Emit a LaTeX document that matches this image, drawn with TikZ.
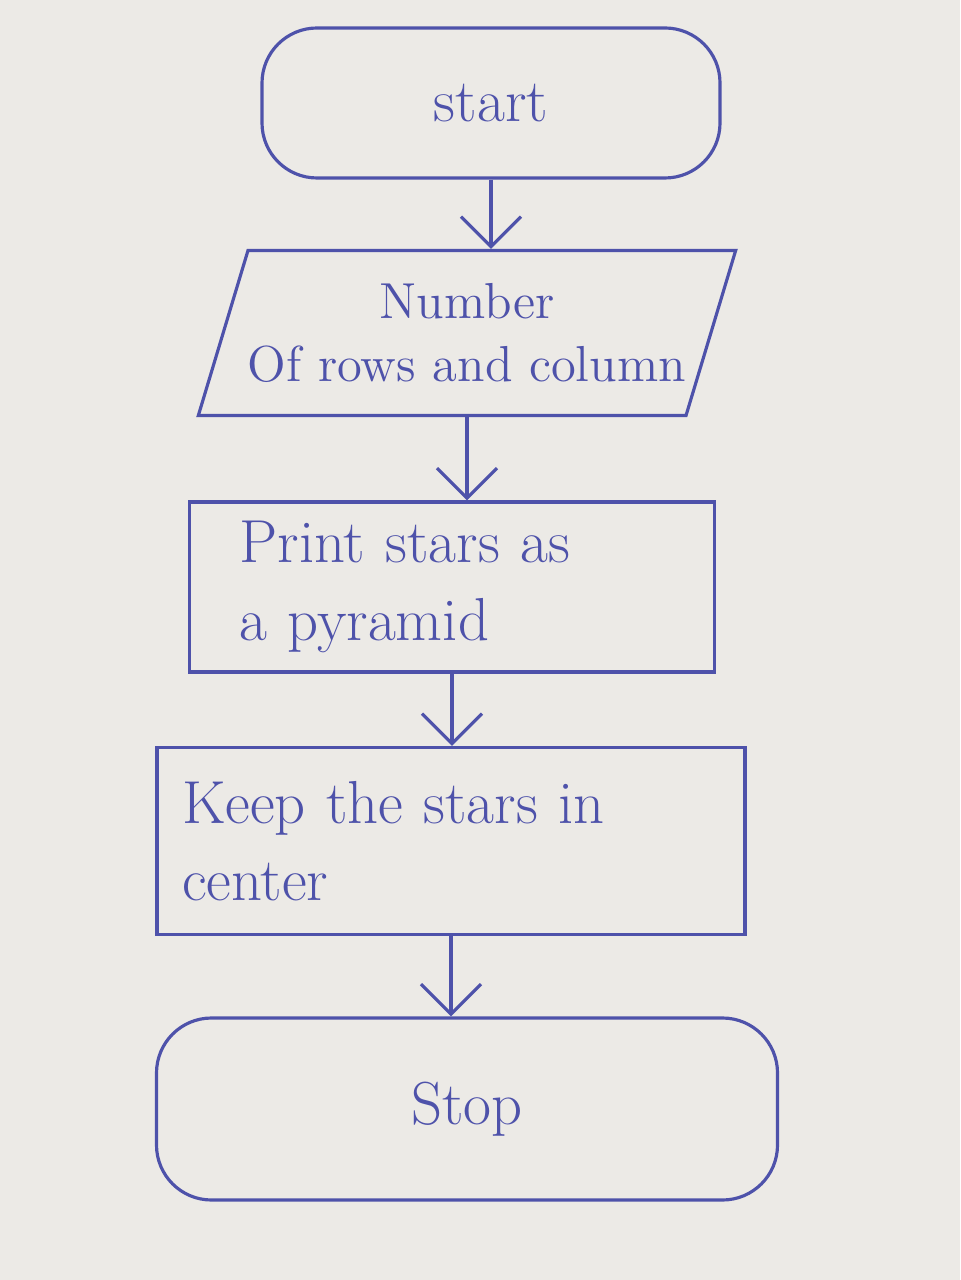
\documentclass[tikz,border=0pt]{standalone}
\usetikzlibrary{shapes.geometric,arrows.meta}

\definecolor{ink}{RGB}{78,82,170}
\definecolor{paper}{RGB}{236,234,230}

\begin{document}
\begin{tikzpicture}[
    ink line/.style={draw=ink,line width=0.9pt},
    terminal/.style={ink line,rounded corners=0.55cm,text=ink,font=\LARGE},
    iobox/.style={ink line,shape=trapezium,trapezium left angle=68,trapezium right angle=112,
      trapezium stretches=true,text=ink,font=\Large,align=center,inner xsep=0pt},
    stepbox/.style={ink line,text=ink,font=\LARGE,align=left,anchor=center},
    flow/.style={ink line,-{Straight Barb[length=3mm,width=6mm]}}
  ]

    % paper
    \fill[paper] (0,0) rectangle (9.6,-12.8) ;
    \useasboundingbox (0,0) rectangle (9.6,-12.8) ;

    % define coordinates
    \coordinate (S) at (4.91,-1.03) ;
    \coordinate (I) at (4.67,-3.33) ;
    \coordinate (P) at (4.52,-5.87) ;
    \coordinate (K) at (4.51,-8.41) ;
    \coordinate (E) at (4.67,-11.09) ;

    % boxes
    \node[terminal,minimum width=4.58cm,minimum height=1.5cm] (start) at (S) {start};
    \node[iobox,minimum width=4.9cm,minimum height=1.65cm] (input) at (I) {Number\\Of rows and column};
    \node[stepbox,minimum height=1.7cm,text width=4.25cm,inner xsep=0.5cm] (print) at (P) {Print stars as\\a pyramid};
    \node[stepbox,minimum height=1.87cm,text width=5.38cm,inner xsep=0.25cm] (keep) at (K) {Keep the stars in\\center};
    \node[terminal,minimum width=6.21cm,minimum height=1.82cm] (stop) at (E) {Stop};

    % arrows
    \draw[flow] (start.south) -- (start.south |- input.north) ;
    \draw[flow] (input.south) -- (input.south |- print.north) ;
    \draw[flow] (print.south) -- (print.south |- keep.north) ;
    \draw[flow] (keep.south) -- (keep.south |- stop.north) ;

\end{tikzpicture}
\end{document}
